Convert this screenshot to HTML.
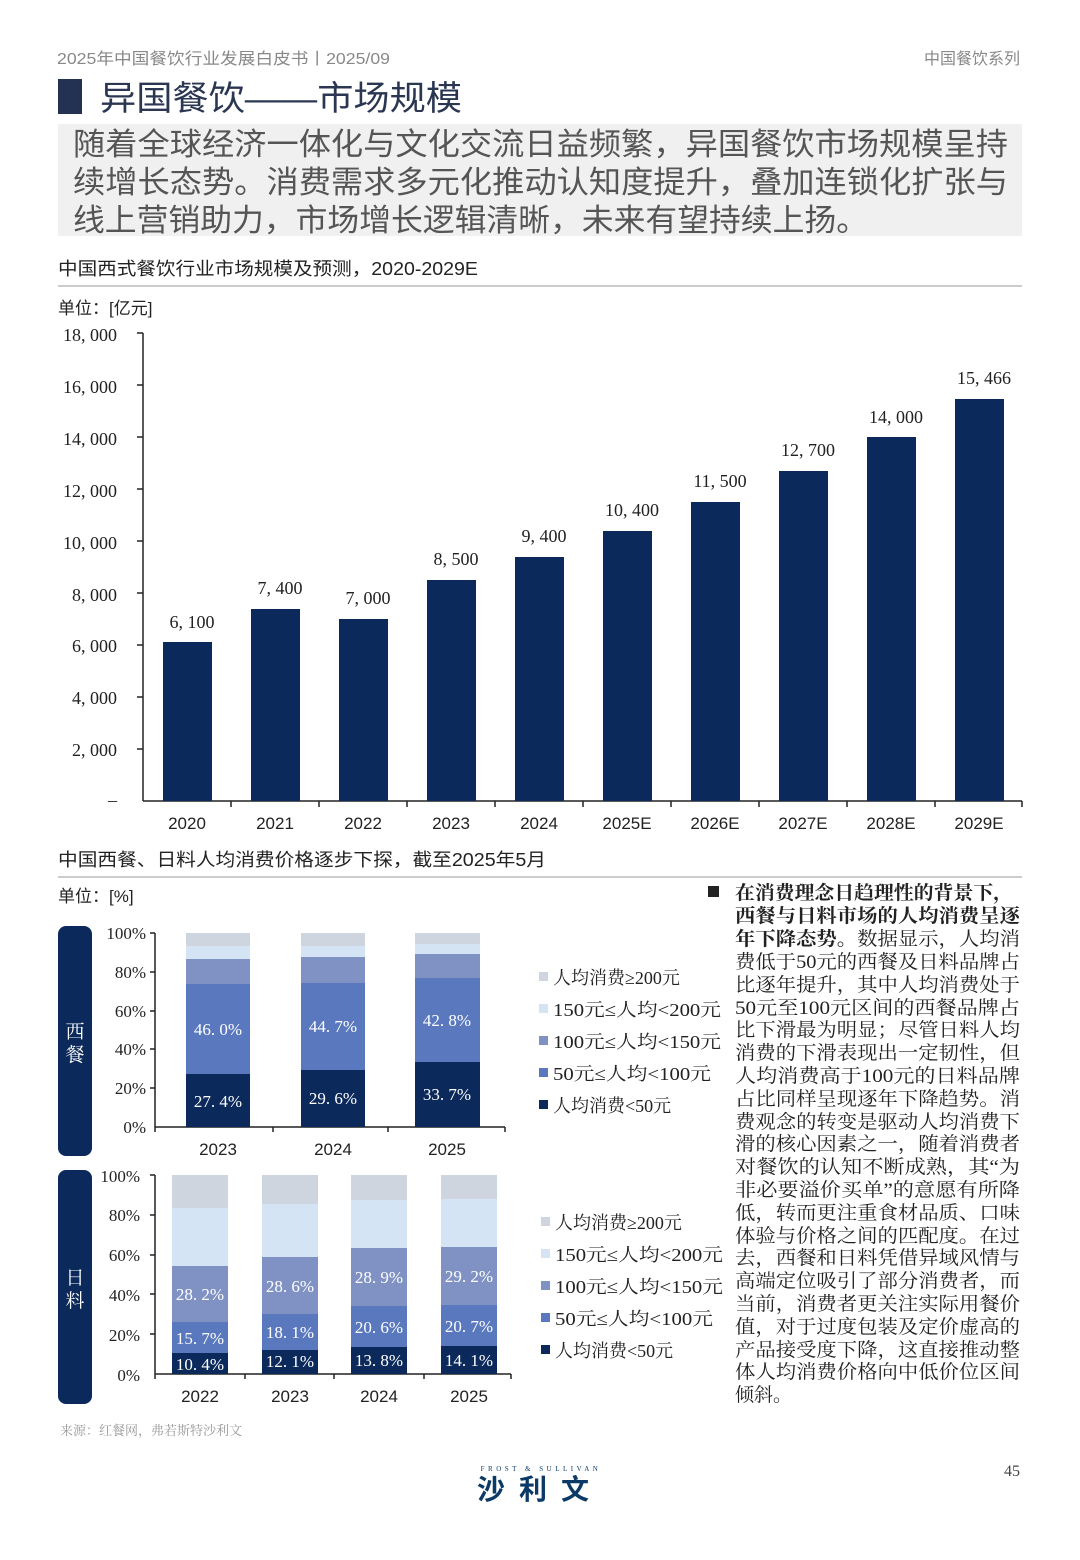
<!DOCTYPE html>
<html><head><meta charset="utf-8"><style>
html,body{margin:0;padding:0;background:#fff;}
svg{display:block;}
.s{font-family:"Liberation Sans","Noto Sans CJK SC",sans-serif;}
.r{font-family:"Liberation Serif","Noto Serif CJK SC",serif;}
</style></head><body>
<svg width="1080" height="1560" viewBox="0 0 1080 1560" xmlns="http://www.w3.org/2000/svg">
<!-- header -->
<text x="57" y="64" class="s" font-size="16" fill="#888" textLength="333" lengthAdjust="spacingAndGlyphs">2025年中国餐饮行业发展白皮书丨2025/09</text>
<text x="1020" y="64" class="s" font-size="16" fill="#888" text-anchor="end">中国餐饮系列</text>
<rect x="58" y="79" width="24" height="35" fill="#233152"/>
<text x="100" y="110" class="s" font-size="34" fill="#2b3752" textLength="362" lengthAdjust="spacingAndGlyphs">异国餐饮——市场规模</text>
<rect x="58" y="124" width="964" height="112" fill="#f0f0f0"/>
<g class="s" font-size="31" fill="#555">
<text x="73" y="155" textLength="935" lengthAdjust="spacingAndGlyphs">随着全球经济一体化与文化交流日益频繁，异国餐饮市场规模呈持</text>
<text x="73" y="193" textLength="935" lengthAdjust="spacingAndGlyphs">续增长态势。消费需求多元化推动认知度提升，叠加连锁化扩张与</text>
<text x="73" y="231" textLength="795" lengthAdjust="spacingAndGlyphs">线上营销助力，市场增长逻辑清晰，未来有望持续上扬。</text>
</g>
<text x="58" y="275" class="s" font-size="18" fill="#222" textLength="420" lengthAdjust="spacingAndGlyphs">中国西式餐饮行业市场规模及预测，2020-2029E</text>
<rect x="58" y="285" width="964" height="2" fill="#ccc"/>
<text x="58" y="314" class="s" font-size="17" fill="#222">单位：[亿元]</text>

<!-- main chart -->
<g class="r" font-size="18" fill="#222" text-anchor="end">
<text x="117" y="341">18, 000</text><text x="117" y="393">16, 000</text><text x="117" y="445">14, 000</text>
<text x="117" y="497">12, 000</text><text x="117" y="549">10, 000</text><text x="117" y="601">8, 000</text>
<text x="117" y="652">6, 000</text><text x="117" y="704">4, 000</text><text x="117" y="756">2, 000</text>
<text x="117" y="806">–</text>
</g>
<g stroke="#222" stroke-width="1.5">
<line x1="143" y1="333" x2="143" y2="801"/><line x1="143" y1="801" x2="1022" y2="801"/>
<line x1="137" y1="333" x2="143" y2="333"/><line x1="137" y1="385" x2="143" y2="385"/><line x1="137" y1="437" x2="143" y2="437"/>
<line x1="137" y1="489" x2="143" y2="489"/><line x1="137" y1="541" x2="143" y2="541"/><line x1="137" y1="593" x2="143" y2="593"/>
<line x1="137" y1="645" x2="143" y2="645"/><line x1="137" y1="697" x2="143" y2="697"/><line x1="137" y1="749" x2="143" y2="749"/>
<line x1="231" y1="801" x2="231" y2="807"/><line x1="319" y1="801" x2="319" y2="807"/><line x1="407" y1="801" x2="407" y2="807"/>
<line x1="495" y1="801" x2="495" y2="807"/><line x1="583" y1="801" x2="583" y2="807"/><line x1="671" y1="801" x2="671" y2="807"/>
<line x1="759" y1="801" x2="759" y2="807"/><line x1="847" y1="801" x2="847" y2="807"/><line x1="935" y1="801" x2="935" y2="807"/>
<line x1="1022" y1="801" x2="1022" y2="807"/>
</g>
<g fill="#0b2a5b">
<rect x="163" y="642" width="49" height="159"/>
<rect x="251" y="609" width="49" height="192"/>
<rect x="339" y="619" width="49" height="182"/>
<rect x="427" y="580" width="49" height="221"/>
<rect x="515" y="557" width="49" height="244"/>
<rect x="603" y="531" width="49" height="270"/>
<rect x="691" y="502" width="49" height="299"/>
<rect x="779" y="471" width="49" height="330"/>
<rect x="867" y="437" width="49" height="364"/>
<rect x="955" y="399" width="49" height="402"/>
</g>
<g class="r" font-size="18" fill="#222" text-anchor="middle">
<text x="192" y="628">6, 100</text><text x="280" y="594">7, 400</text><text x="368" y="604">7, 000</text>
<text x="456" y="565">8, 500</text><text x="544" y="542">9, 400</text><text x="632" y="516">10, 400</text>
<text x="720" y="487">11, 500</text><text x="808" y="456">12, 700</text><text x="896" y="423">14, 000</text>
<text x="984" y="384">15, 466</text>
</g>
<g class="s" font-size="17" fill="#222" text-anchor="middle">
<text x="187" y="829">2020</text><text x="275" y="829">2021</text><text x="363" y="829">2022</text>
<text x="451" y="829">2023</text><text x="539" y="829">2024</text><text x="627" y="829">2025E</text>
<text x="715" y="829">2026E</text><text x="803" y="829">2027E</text><text x="891" y="829">2028E</text>
<text x="979" y="829">2029E</text>
</g>

<text x="58" y="866" class="s" font-size="18" fill="#222" textLength="488" lengthAdjust="spacingAndGlyphs">中国西餐、日料人均消费价格逐步下探，截至2025年5月</text>
<rect x="58" y="876" width="964" height="2" fill="#ccc"/>
<text x="58" y="902" class="s" font-size="17" fill="#222">单位：[%]</text>

<!-- side labels -->
<rect x="58" y="926" width="34" height="230" rx="8" fill="#0b2a5b"/>
<rect x="58" y="1170" width="34" height="234" rx="8" fill="#0b2a5b"/>
<g class="r" font-size="19" fill="#fff" text-anchor="middle">
<text x="75" y="1038">西</text><text x="75" y="1061">餐</text>
<text x="75" y="1284">日</text><text x="75" y="1307">料</text>
</g>

<!-- chart 1 -->
<g class="r" font-size="17" fill="#222" text-anchor="end">
<text x="146" y="939">100%</text><text x="146" y="978">80%</text><text x="146" y="1017">60%</text>
<text x="146" y="1055">40%</text><text x="146" y="1094">20%</text><text x="146" y="1133">0%</text>
</g>
<g stroke="#222" stroke-width="1.5">
<line x1="155" y1="933" x2="155" y2="1127"/><line x1="155" y1="1127" x2="505" y2="1127"/>
<line x1="150" y1="933" x2="155" y2="933"/><line x1="150" y1="972" x2="155" y2="972"/><line x1="150" y1="1011" x2="155" y2="1011"/>
<line x1="150" y1="1049" x2="155" y2="1049"/><line x1="150" y1="1088" x2="155" y2="1088"/>
<line x1="155" y1="1127" x2="155" y2="1132"/><line x1="273" y1="1127" x2="273" y2="1132"/><line x1="388" y1="1127" x2="388" y2="1132"/><line x1="505" y1="1127" x2="505" y2="1132"/>
</g>
<!-- 2023: 27.4,46.0,12.8,6.6,7.2 ; scale 1.94 -->
<g>
<rect x="186" y="1074" width="64" height="53" fill="#0b2a5b"/>
<rect x="186" y="984" width="64" height="90" fill="#5a78bd"/>
<rect x="186" y="959" width="64" height="25" fill="#7f92c3"/>
<rect x="186" y="946" width="64" height="13" fill="#d5e4f5"/>
<rect x="186" y="933" width="64" height="13" fill="#cfd5df"/>
<rect x="301" y="1070" width="64" height="57" fill="#0b2a5b"/>
<rect x="301" y="983" width="64" height="87" fill="#5a78bd"/>
<rect x="301" y="957" width="64" height="26" fill="#7f92c3"/>
<rect x="301" y="946" width="64" height="11" fill="#d5e4f5"/>
<rect x="301" y="933" width="64" height="13" fill="#cfd5df"/>
<rect x="415" y="1062" width="65" height="65" fill="#0b2a5b"/>
<rect x="415" y="978" width="65" height="84" fill="#5a78bd"/>
<rect x="415" y="954" width="65" height="24" fill="#7f92c3"/>
<rect x="415" y="944" width="65" height="10" fill="#d5e4f5"/>
<rect x="415" y="933" width="65" height="11" fill="#cfd5df"/>
</g>
<g class="r" font-size="17" fill="#fff" text-anchor="middle">
<text x="218" y="1107">27. 4%</text><text x="218" y="1035">46. 0%</text>
<text x="333" y="1104">29. 6%</text><text x="333" y="1032">44. 7%</text>
<text x="447" y="1100">33. 7%</text><text x="447" y="1026">42. 8%</text>
</g>
<g class="s" font-size="17" fill="#222" text-anchor="middle">
<text x="218" y="1155">2023</text><text x="333" y="1155">2024</text><text x="447" y="1155">2025</text>
</g>

<!-- chart 2 -->
<g class="r" font-size="17" fill="#222" text-anchor="end">
<text x="140" y="1182">100%</text><text x="140" y="1221">80%</text><text x="140" y="1261">60%</text>
<text x="140" y="1301">40%</text><text x="140" y="1341">20%</text><text x="140" y="1381">0%</text>
</g>
<g stroke="#222" stroke-width="1.5">
<line x1="155" y1="1175" x2="155" y2="1374"/><line x1="155" y1="1374" x2="511" y2="1374"/>
<line x1="150" y1="1175" x2="155" y2="1175"/><line x1="150" y1="1215" x2="155" y2="1215"/><line x1="150" y1="1255" x2="155" y2="1255"/>
<line x1="150" y1="1294" x2="155" y2="1294"/><line x1="150" y1="1334" x2="155" y2="1334"/>
<line x1="155" y1="1374" x2="155" y2="1379"/><line x1="245" y1="1374" x2="245" y2="1379"/><line x1="334" y1="1374" x2="334" y2="1379"/>
<line x1="424" y1="1374" x2="424" y2="1379"/><line x1="511" y1="1374" x2="511" y2="1379"/>
</g>
<g>
<!-- 2022 10.4 15.7 28.2 29.1 16.6 ; scale 1.99 -->
<rect x="172" y="1353" width="56" height="21" fill="#0b2a5b"/>
<rect x="172" y="1322" width="56" height="31" fill="#5a78bd"/>
<rect x="172" y="1266" width="56" height="56" fill="#7f92c3"/>
<rect x="172" y="1208" width="56" height="58" fill="#d5e4f5"/>
<rect x="172" y="1175" width="56" height="33" fill="#cfd5df"/>
<!-- 2023 12.1 18.1 28.6 26.6 14.6 -->
<rect x="262" y="1350" width="56" height="24" fill="#0b2a5b"/>
<rect x="262" y="1314" width="56" height="36" fill="#5a78bd"/>
<rect x="262" y="1257" width="56" height="57" fill="#7f92c3"/>
<rect x="262" y="1204" width="56" height="53" fill="#d5e4f5"/>
<rect x="262" y="1175" width="56" height="29" fill="#cfd5df"/>
<!-- 2024 13.8 20.6 28.9 24.2 12.5 -->
<rect x="351" y="1347" width="56" height="27" fill="#0b2a5b"/>
<rect x="351" y="1306" width="56" height="41" fill="#5a78bd"/>
<rect x="351" y="1248" width="56" height="58" fill="#7f92c3"/>
<rect x="351" y="1200" width="56" height="48" fill="#d5e4f5"/>
<rect x="351" y="1175" width="56" height="25" fill="#cfd5df"/>
<!-- 2025 14.1 20.7 29.2 24.1 11.9 -->
<rect x="441" y="1346" width="56" height="28" fill="#0b2a5b"/>
<rect x="441" y="1305" width="56" height="41" fill="#5a78bd"/>
<rect x="441" y="1247" width="56" height="58" fill="#7f92c3"/>
<rect x="441" y="1199" width="56" height="48" fill="#d5e4f5"/>
<rect x="441" y="1175" width="56" height="24" fill="#cfd5df"/>
</g>
<g class="r" font-size="17" fill="#fff" text-anchor="middle">
<text x="200" y="1370">10. 4%</text><text x="200" y="1344">15. 7%</text><text x="200" y="1300">28. 2%</text>
<text x="290" y="1367">12. 1%</text><text x="290" y="1338">18. 1%</text><text x="290" y="1292">28. 6%</text>
<text x="379" y="1366">13. 8%</text><text x="379" y="1333">20. 6%</text><text x="379" y="1283">28. 9%</text>
<text x="469" y="1366">14. 1%</text><text x="469" y="1332">20. 7%</text><text x="469" y="1282">29. 2%</text>
</g>
<g class="s" font-size="17" fill="#222" text-anchor="middle">
<text x="200" y="1402">2022</text><text x="290" y="1402">2023</text><text x="379" y="1402">2024</text><text x="469" y="1402">2025</text>
</g>

<!-- legends -->
<g>
<rect x="539" y="972" width="9" height="9" fill="#cfd5df"/>
<rect x="539" y="1004" width="9" height="9" fill="#d5e4f5"/>
<rect x="539" y="1036" width="9" height="9" fill="#7f92c3"/>
<rect x="539" y="1068" width="9" height="9" fill="#5a78bd"/>
<rect x="539" y="1100" width="9" height="9" fill="#0b2a5b"/>
<rect x="541" y="1217" width="9" height="9" fill="#cfd5df"/>
<rect x="541" y="1249" width="9" height="9" fill="#d5e4f5"/>
<rect x="541" y="1281" width="9" height="9" fill="#7f92c3"/>
<rect x="541" y="1313" width="9" height="9" fill="#5a78bd"/>
<rect x="541" y="1345" width="9" height="9" fill="#0b2a5b"/>
</g>
<g class="r" font-size="18" fill="#222">
<text x="553" y="984">人均消费≥200元</text>
<text x="553" y="1016" textLength="168" lengthAdjust="spacingAndGlyphs">150元≤人均&lt;200元</text>
<text x="553" y="1048" textLength="168" lengthAdjust="spacingAndGlyphs">100元≤人均&lt;150元</text>
<text x="553" y="1080" textLength="158" lengthAdjust="spacingAndGlyphs">50元≤人均&lt;100元</text>
<text x="553" y="1112">人均消费&lt;50元</text>
<text x="555" y="1229">人均消费≥200元</text>
<text x="555" y="1261" textLength="168" lengthAdjust="spacingAndGlyphs">150元≤人均&lt;200元</text>
<text x="555" y="1293" textLength="168" lengthAdjust="spacingAndGlyphs">100元≤人均&lt;150元</text>
<text x="555" y="1325" textLength="158" lengthAdjust="spacingAndGlyphs">50元≤人均&lt;100元</text>
<text x="555" y="1357">人均消费&lt;50元</text>
</g>

<!-- right text -->
<rect x="708" y="886" width="11" height="11" fill="#222"/>
<g class="r" font-size="19" fill="#222">
<text x="735" y="899" font-weight="bold" textLength="278" lengthAdjust="spacingAndGlyphs">在消费理念日趋理性的背景下，</text>
<text x="735" y="922" font-weight="bold" textLength="285" lengthAdjust="spacingAndGlyphs">西餐与日料市场的人均消费呈逐</text>
<text x="735" y="945" textLength="285" lengthAdjust="spacingAndGlyphs"><tspan font-weight="bold">年下降态势。</tspan>数据显示，人均消</text>
<text x="735" y="968" textLength="285" lengthAdjust="spacingAndGlyphs">费低于50元的西餐及日料品牌占</text>
<text x="735" y="991" textLength="285" lengthAdjust="spacingAndGlyphs">比逐年提升，其中人均消费处于</text>
<text x="735" y="1014" textLength="285" lengthAdjust="spacingAndGlyphs">50元至100元区间的西餐品牌占</text>
<text x="735" y="1036" textLength="285" lengthAdjust="spacingAndGlyphs">比下滑最为明显；尽管日料人均</text>
<text x="735" y="1059" textLength="285" lengthAdjust="spacingAndGlyphs">消费的下滑表现出一定韧性，但</text>
<text x="735" y="1082" textLength="285" lengthAdjust="spacingAndGlyphs">人均消费高于100元的日料品牌</text>
<text x="735" y="1105" textLength="285" lengthAdjust="spacingAndGlyphs">占比同样呈现逐年下降趋势。消</text>
<text x="735" y="1128" textLength="285" lengthAdjust="spacingAndGlyphs">费观念的转变是驱动人均消费下</text>
<text x="735" y="1150" textLength="285" lengthAdjust="spacingAndGlyphs">滑的核心因素之一，随着消费者</text>
<text x="735" y="1173" textLength="285" lengthAdjust="spacingAndGlyphs">对餐饮的认知不断成熟，其“为</text>
<text x="735" y="1196" textLength="285" lengthAdjust="spacingAndGlyphs">非必要溢价买单”的意愿有所降</text>
<text x="735" y="1219" textLength="285" lengthAdjust="spacingAndGlyphs">低，转而更注重食材品质、口味</text>
<text x="735" y="1242" textLength="285" lengthAdjust="spacingAndGlyphs">体验与价格之间的匹配度。在过</text>
<text x="735" y="1264" textLength="285" lengthAdjust="spacingAndGlyphs">去，西餐和日料凭借异域风情与</text>
<text x="735" y="1287" textLength="285" lengthAdjust="spacingAndGlyphs">高端定位吸引了部分消费者，而</text>
<text x="735" y="1310" textLength="285" lengthAdjust="spacingAndGlyphs">当前，消费者更关注实际用餐价</text>
<text x="735" y="1333" textLength="285" lengthAdjust="spacingAndGlyphs">值，对于过度包装及定价虚高的</text>
<text x="735" y="1356" textLength="285" lengthAdjust="spacingAndGlyphs">产品接受度下降，这直接推动整</text>
<text x="735" y="1378" textLength="285" lengthAdjust="spacingAndGlyphs">体人均消费价格向中低价位区间</text>
<text x="735" y="1401">倾斜。</text>
</g>

<text x="60" y="1435" class="r" font-size="13" fill="#999">来源：红餐网，弗若斯特沙利文</text>
<!-- footer logo -->
<text x="541" y="1471" class="r" font-size="7" fill="#0b3a66" text-anchor="middle" letter-spacing="3.5">FROST &amp; SULLIVAN</text>
<text x="540" y="1499" class="s" font-size="28" font-weight="bold" fill="#0b3a66" text-anchor="middle" letter-spacing="14">沙利文</text>
<text x="1020" y="1476" class="r" font-size="16" fill="#444" text-anchor="end">45</text>
</svg>
</body></html>
